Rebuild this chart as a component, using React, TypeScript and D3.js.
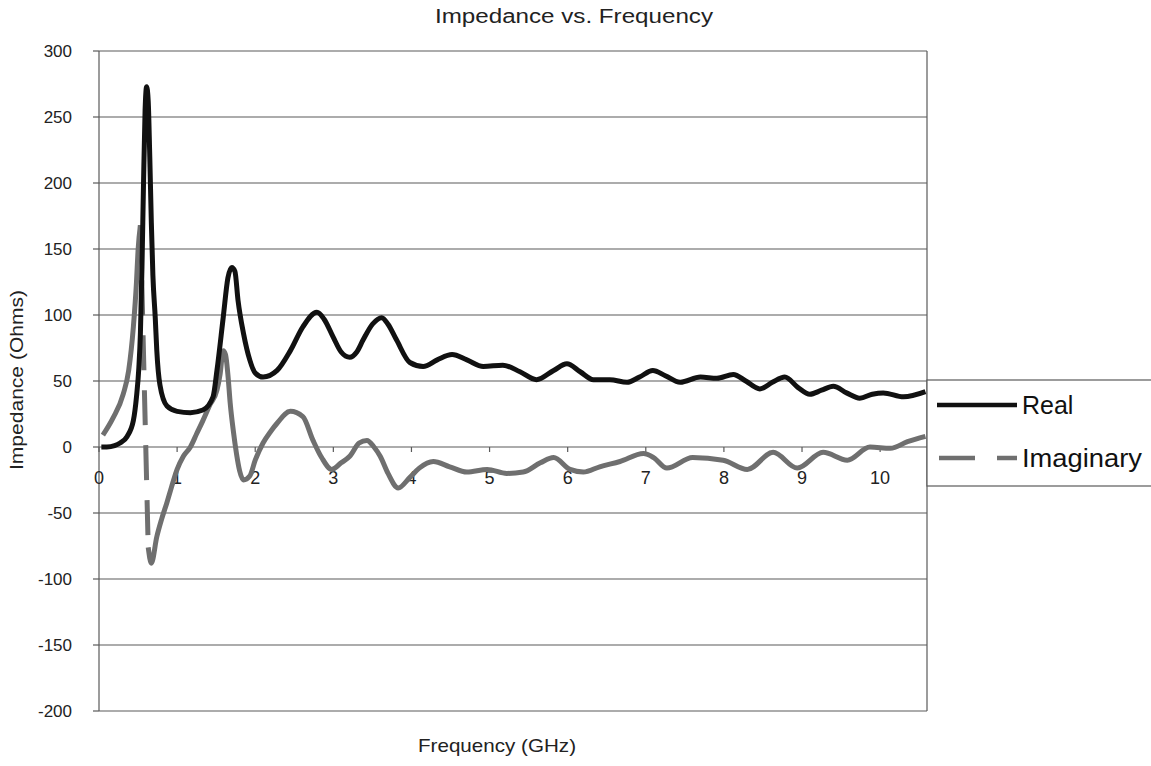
import React from "react";
import * as d3 from "d3";

const realFreq = [0.03, 0.1, 0.2, 0.27, 0.36, 0.44, 0.48, 0.51, 0.53, 0.55, 0.57, 0.59, 0.61, 0.63, 0.65, 0.67, 0.69, 0.72, 0.74, 0.78, 0.87, 1.0, 1.17, 1.33, 1.46, 1.51, 1.59, 1.65, 1.7, 1.74, 1.78, 1.85, 1.93, 2.0, 2.1, 2.28, 2.45, 2.61, 2.79, 2.88, 3.0, 3.1, 3.21, 3.3, 3.38, 3.5, 3.62, 3.7, 3.81, 3.98, 4.15, 4.33, 4.52, 4.71, 4.92, 5.17, 5.39, 5.6, 5.82, 5.99, 6.16, 6.33, 6.54, 6.76, 6.92, 7.09, 7.25, 7.44, 7.7, 7.91, 8.12, 8.28, 8.46, 8.62, 8.78, 8.95, 9.1, 9.25, 9.4, 9.57, 9.74, 9.9, 10.04, 10.3, 10.58];
const realVals = [0, 0, 1, 3, 8, 20, 38, 60, 86, 136, 200, 255, 273, 262, 220, 170, 130, 98, 73, 47, 31, 27, 26, 28, 38, 58, 98, 128, 136, 133, 111, 86, 66, 56, 53, 58, 73, 91, 102, 97, 83, 72, 68, 72, 81, 93, 98, 93, 81, 64, 61, 66, 70, 66, 61, 62, 57, 51, 58, 63, 57, 51, 51, 49, 53, 58, 54, 49, 53, 52, 55, 50, 44, 49, 53, 45, 40, 43, 46, 41, 37, 40, 41, 38, 42];

const imagFreq = [0.05, 0.18, 0.31, 0.38, 0.44, 0.48, 0.5, 0.53, 0.63, 0.67, 0.74, 0.8, 0.87, 0.93, 1.0, 1.08, 1.17, 1.25, 1.33, 1.42, 1.51, 1.55, 1.59, 1.62, 1.65, 1.68, 1.72, 1.76, 1.8, 1.85, 1.93, 2.0, 2.1, 2.2, 2.28, 2.45, 2.61, 2.74, 2.85, 2.98, 3.1, 3.21, 3.33, 3.43, 3.52, 3.6, 3.7, 3.83, 3.98, 4.1, 4.28, 4.49, 4.71, 4.97, 5.22, 5.43, 5.65, 5.82, 6.03, 6.2, 6.41, 6.67, 6.97, 7.1, 7.27, 7.6, 7.99, 8.3, 8.63, 8.94, 9.27, 9.58, 9.87, 10.13, 10.35, 10.58];
const imagVals = [9, 22, 40, 58, 91, 125, 149, 168, -76, -88, -68, -55, -42, -30, -17, -7, 0, 10, 20, 32, 43, 55, 73, 70, 55, 33, 12, -5, -18, -25, -22, -10, 3, 12, 18, 27, 23, 5, -8, -17, -12, -7, 3, 5, 0, -7, -20, -31, -23, -16, -11, -15, -19, -17, -20, -19, -12, -8, -17, -19, -15, -11, -5, -8, -16, -8, -10, -17, -4, -16, -4, -10, 0, -1, 4, 8];

const xTicks = [0, 1, 2, 3, 4, 5, 6, 7, 8, 9, 10];
const yTicks = [300, 250, 200, 150, 100, 50, 0, -50, -100, -150, -200];

const seriesNames = ["Real", "Imaginary"];

export default function App() {
  const W = 1151, H = 766;
  const left = 99, right = 927, top = 51, bottom = 711;
  const x = d3.scaleLinear().domain([0, 10.6]).range([left, right]);
  const y = d3.scaleLinear().domain([-200, 300]).range([bottom, top]);

  const realPts: [number, number][] = realFreq.map((f, i) => [x(f), y(realVals[i])]);
  const imagPts: [number, number][] = imagFreq.map((f, i) => [x(f), y(imagVals[i])]);

  const line = d3.line<[number, number]>().x(d => d[0]).y(d => d[1]).curve(d3.curveMonotoneX);

  // split imaginary into solid runs and long dashed straight segments
  const solidRuns: [number, number][][] = [];
  const dashedSegs: [number, number][][] = [];
  let run: [number, number][] = [imagPts[0]];
  for (let i = 1; i < imagPts.length; i++) {
    const a = imagPts[i - 1], b = imagPts[i];
    const len = Math.hypot(b[0] - a[0], b[1] - a[1]);
    if (len > 150) {
      if (run.length > 1) solidRuns.push(run);
      dashedSegs.push([a, b]);
      run = [b];
    } else {
      run.push(b);
    }
  }
  if (run.length > 1) solidRuns.push(run);

  const grid = "#5a5a5a";
  const realColor = "#111";
  const imagColor = "#6f6f6f";
  const font = "Liberation Sans, Arial, Helvetica, sans-serif";
  const y0 = y(0);

  return (
    <svg width={W} height={H} style={{ position: "absolute", left: 0, top: 0, background: "#fff" }} fontFamily={font}>
      <rect x={0} y={0} width={W} height={H} fill="#fff" />
      <text x={574} y={23} fontSize={20} textAnchor="middle" textLength={278} lengthAdjust="spacingAndGlyphs" fill="#222">Impedance vs. Frequency</text>

      {yTicks.map(t => (
        <g key={t}>
          <line x1={left} x2={right} y1={y(t)} y2={y(t)} stroke={grid} strokeWidth={1.2} />
          <line x1={left - 6} x2={left} y1={y(t)} y2={y(t)} stroke={grid} strokeWidth={1.2} />
          <text x={72} y={y(t) + 6} fontSize={17} textAnchor="end" fill="#222">{t}</text>
        </g>
      ))}
      <line x1={left} x2={left} y1={top} y2={bottom} stroke={grid} strokeWidth={1.2} />
      <line x1={right} x2={right} y1={top} y2={bottom} stroke={grid} strokeWidth={1.2} />

      {xTicks.map(t => (
        <g key={t}>
          <line x1={x(t)} x2={x(t)} y1={y0} y2={y0 + 5} stroke={grid} strokeWidth={1.2} />
          <text x={x(t)} y={484} fontSize={18} textAnchor="middle" fill="#222">{t}</text>
        </g>
      ))}

      <text transform={`translate(23,380) rotate(-90)`} fontSize={19} textAnchor="middle" textLength={180} lengthAdjust="spacingAndGlyphs" fill="#222">Impedance (Ohms)</text>
      <text x={497} y={752} fontSize={19} textAnchor="middle" textLength={158} lengthAdjust="spacingAndGlyphs" fill="#222">Frequency (GHz)</text>

      {solidRuns.map((r, i) => (
        <path key={"s" + i} d={line(r) || ""} fill="none" stroke={imagColor} strokeWidth={5} strokeLinejoin="round" />
      ))}
      {dashedSegs.map((s, i) => (
        <line key={"d" + i} x1={s[0][0]} y1={s[0][1]} x2={s[1][0]} y2={s[1][1]} stroke={imagColor} strokeWidth={5} strokeDasharray="35,20" />
      ))}
      <path d={line(realPts) || ""} fill="none" stroke={realColor} strokeWidth={5} strokeLinejoin="round" />

      <rect x={927} y={380} width={240} height={106} fill="#fff" stroke={grid} strokeWidth={1.2} />
      <line x1={937} x2={1017} y1={405} y2={405} stroke={realColor} strokeWidth={4.5} />
      <text x={1022} y={414} fontSize={25} fill="#111">{seriesNames[0]}</text>
      <line x1={939} x2={1017} y1={458} y2={458} stroke={imagColor} strokeWidth={4.5} strokeDasharray="36,22" />
      <text x={1022} y={467} fontSize={25} textLength={120} lengthAdjust="spacingAndGlyphs" fill="#111">{seriesNames[1]}</text>
    </svg>
  );
}
